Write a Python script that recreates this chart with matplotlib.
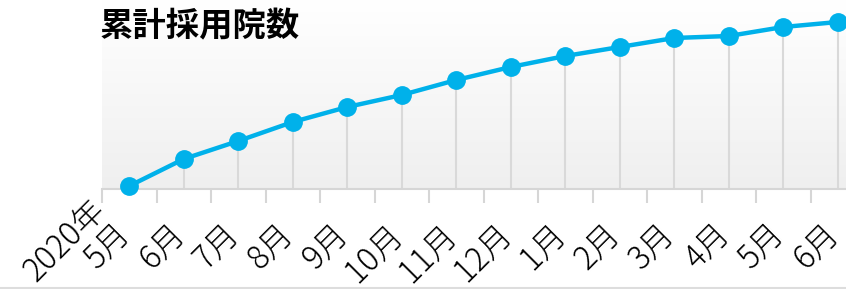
import matplotlib.pyplot as plt
import numpy as np
from matplotlib.lines import Line2D
from matplotlib.colors import LinearSegmentedColormap
from matplotlib.transforms import ScaledTranslation

plt.rcParams['font.family'] = ['Noto Sans CJK JP', 'DejaVu Sans']

# データ
months = ['2020年\n5月', '6月', '7月', '8月', '9月', '10月', '11月', '12月',
          '1月', '2月', '3月', '4月', '5月', '6月']
counts = [3, 30, 48, 67, 82, 94, 109, 122, 133, 142, 151, 153, 162, 167]

fig = plt.figure(figsize=(8.46, 2.89), dpi=100)
# 右端は図の外まで伸ばす (最後のカテゴリが切れている)
ax = fig.add_axes([102 / 846, 100 / 289, 763 / 846, 189 / 289])

n = len(months)
x = np.arange(n)
ax.set_xlim(-0.5, n - 0.5)
ax.set_ylim(0, 189)

# 背景のグラデーション (上が白、下が薄いグレー)
grad = np.linspace(0, 1, 256).reshape(-1, 1)
cmap = LinearSegmentedColormap.from_list('bg', ['#ffffff', '#efefef'])
ax.imshow(grad, extent=[-0.5, n - 0.5, 0, 189], aspect='auto',
          origin='upper', cmap=cmap, zorder=0)

ax.vlines(x, 0, counts, color='#d9d9d9', lw=1.5, zorder=1)
ax.plot(x, counts, color='#00b1ea', lw=3.2, marker='o', ms=12.5,
        solid_capstyle='round', zorder=3, clip_on=False)

for s in ['top', 'right', 'left']:
    ax.spines[s].set_visible(False)
ax.spines['bottom'].set_color('#d6d6d6')
ax.spines['bottom'].set_linewidth(1.5)
ax.set_yticks([])

ax.set_xticks(x)
ax.tick_params(axis='x', which='major', length=0, pad=38)
ax.set_xticklabels(months, rotation=45, ha='right', va='bottom',
                   rotation_mode='anchor', fontsize=23, multialignment='right',
                   linespacing=1.0, fontweight='light')
# ラベルを少し右へずらす
shift = ScaledTranslation(8 / 100, 0, fig.dpi_scale_trans)
for lab in ax.get_xticklabels():
    lab.set_transform(lab.get_transform() + shift)

ax.set_xticks(np.arange(n + 1) - 0.5, minor=True)
ax.tick_params(axis='x', which='minor', length=10, width=1.5, color='#d6d6d6')

fig.text(100 / 846, 1 - 27 / 289, '累計採用院数', fontsize=24, fontweight='bold',
         va='center', ha='left')

fig.add_artist(Line2D([0, 1], [1.5 / 289, 1.5 / 289], color='#dddddd', lw=1.5,
                      transform=fig.transFigure))

fig.savefig('out.png', dpi=100)
